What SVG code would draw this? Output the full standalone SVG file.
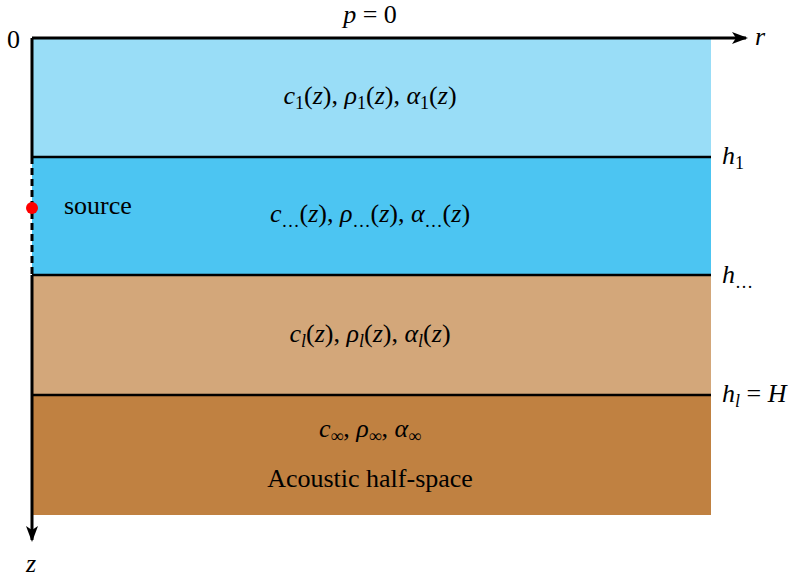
<svg xmlns="http://www.w3.org/2000/svg" width="795" height="580" viewBox="0 0 795 580">
<style>
text{font-family:"Liberation Serif","Times New Roman",serif;font-size:26px;fill:#000}
.i{font-style:italic}
.s{font-size:18px}
.ax{stroke:#000;stroke-width:3;fill:none}
.ln{stroke:#000;stroke-width:2.5}
</style>
<defs>
<marker id="ah" viewBox="0 0 16 12" refX="14" refY="6" markerWidth="16" markerHeight="12" markerUnits="userSpaceOnUse" orient="auto">
<path d="M0,0 L16,6 L0,12 L4,6 Z" fill="#000"/>
</marker>
</defs>
<g id="layers">
<rect id="layer1" x="32" y="38" width="679" height="119" fill="#99DDF7"/>
<rect id="layer2" x="32" y="157" width="679" height="118" fill="#4CC5F2"/>
<rect id="layer3" x="32" y="275" width="679" height="120" fill="#D3A77A"/>
<rect id="layer4" x="32" y="395" width="679" height="120" fill="#C08141"/>
</g>
<g id="connectors">
<line class="ln" x1="32" y1="157" x2="711" y2="157"/>
<line class="ln" x1="32" y1="275" x2="711" y2="275"/>
<line class="ln" x1="32" y1="395" x2="711" y2="395"/>
<line class="ax" x1="32" y1="38" x2="746" y2="38" marker-end="url(#ah)"/>
<line class="ax" x1="32" y1="38" x2="32" y2="157"/>
<line class="ax" x1="32" y1="157" x2="32" y2="275" stroke-dasharray="7,4"/>
<line class="ax" x1="32" y1="275" x2="32" y2="540" marker-end="url(#ah)"/>
</g>
<g id="source">
<circle cx="32" cy="208" r="6" fill="#F00"/>
<text x="64" y="214">source</text>
</g>
<g id="axis-labels">
<text x="370" y="23" text-anchor="middle"><tspan class="i">p</tspan> = 0</text>
<text x="7" y="48">0</text>
<text class="i" x="755" y="45">r</text>
<text class="i" x="26" y="572">z</text>
<text x="722" y="164"><tspan class="i">h</tspan><tspan class="s" dy="5">1</tspan></text>
<text x="722" y="283"><tspan class="i">h</tspan><tspan class="s" dy="5">…</tspan></text>
<text x="722" y="402"><tspan class="i">h</tspan><tspan class="s i" dy="5">l</tspan><tspan dy="-5"> = </tspan><tspan class="i">H</tspan></text>
</g>
<g id="formulas">
<text x="370" y="104" text-anchor="middle"><tspan class="i">c</tspan><tspan class="s" dy="5">1</tspan><tspan dy="-5">(</tspan><tspan class="i">z</tspan>), <tspan class="i">ρ</tspan><tspan class="s" dy="5">1</tspan><tspan dy="-5">(</tspan><tspan class="i">z</tspan>), <tspan class="i">α</tspan><tspan class="s" dy="5">1</tspan><tspan dy="-5">(</tspan><tspan class="i">z</tspan>)</text>
<text x="370" y="222" text-anchor="middle"><tspan class="i">c</tspan><tspan class="s" dy="5">…</tspan><tspan dy="-5">(</tspan><tspan class="i">z</tspan>), <tspan class="i">ρ</tspan><tspan class="s" dy="5">…</tspan><tspan dy="-5">(</tspan><tspan class="i">z</tspan>), <tspan class="i">α</tspan><tspan class="s" dy="5">…</tspan><tspan dy="-5">(</tspan><tspan class="i">z</tspan>)</text>
<text x="370" y="342" text-anchor="middle"><tspan class="i">c</tspan><tspan class="s i" dy="5">l</tspan><tspan dy="-5">(</tspan><tspan class="i">z</tspan>), <tspan class="i">ρ</tspan><tspan class="s i" dy="5">l</tspan><tspan dy="-5">(</tspan><tspan class="i">z</tspan>), <tspan class="i">α</tspan><tspan class="s i" dy="5">l</tspan><tspan dy="-5">(</tspan><tspan class="i">z</tspan>)</text>
<text x="370" y="437" text-anchor="middle"><tspan class="i">c</tspan><tspan class="s" dy="5">∞</tspan><tspan dy="-5">, </tspan><tspan class="i">ρ</tspan><tspan class="s" dy="5">∞</tspan><tspan dy="-5">, </tspan><tspan class="i">α</tspan><tspan class="s" dy="5">∞</tspan></text>
<text x="370" y="487" text-anchor="middle">Acoustic half-space</text>
</g>
</svg>
